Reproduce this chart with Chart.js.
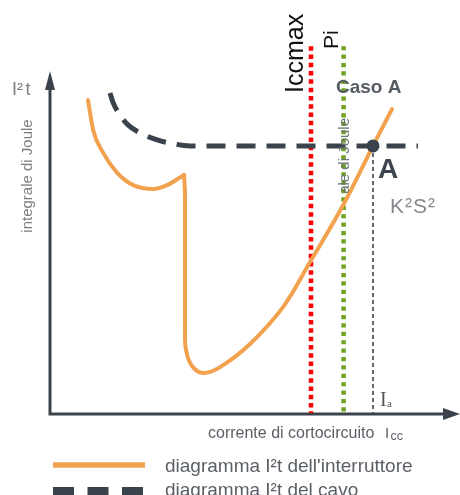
<!DOCTYPE html>
<html>
<head>
<meta charset="utf-8">
<script src="https://cdn.jsdelivr.net/npm/chart.js@4.4.1/dist/chart.umd.min.js"></script>
<style>
  html, body { margin: 0; padding: 0; background: #fff; }
  #wrap { position: relative; width: 460px; height: 495px; overflow: hidden; }
</style>
</head>
<body>
<div id="wrap"><canvas id="chart" width="460" height="495"></canvas></div>
<script>
// Breaker I2t curve (chart units 0..100)
const breakerTopX = [9.5, 10.8, 13.3, 16.8, 20.8, 25.8, 29.3, 33.5];
const breakerTopY = [89.7, 81.1, 74.6, 68.9, 65.4, 64.3, 65.4, 68.3];
const breakerLowX = [33.5, 33.75, 33.75, 34.0, 35.5, 38.3, 42.5, 50.0, 58.3, 65.0, 73.3, 80.75, 85.5];
const breakerLowY = [68.3, 62.6, 24.0, 18.3, 13.7, 11.7, 13.4, 20.0, 30.6, 43.4, 59.7, 76.6, 87.1];

// Cable I2t curve (K2S2)
const cableX = [15.0, 15.8, 17.5, 19.5, 22.5, 26.8, 30.0, 35.0, 45.0, 92.0];
const cableY = [91.7, 88.9, 85.4, 82.6, 80.3, 78.3, 77.4, 76.6, 76.6, 76.6];

// Vertical markers
const iccmaxX = 65.25;
const piX = 73.4;
const pointA = { x: 80.75, y: 76.6 };
const markerTop = 105.1;
const markerBottom = 0.3;

const pts = (xs, ys) => xs.map((x, i) => ({ x: x, y: ys[i] }));

const FONT = "'Liberation Sans', Arial, sans-serif";
const ORANGE = '#f2a24e';
const DARK = '#3a424c';
const GREY = '#5b6067';

// Axes, arrows, labels and legend
const sketchPlugin = {
    id: 'sketch',
    beforeDatasetsDraw(chart) {
        const ctx = chart.ctx;
        const sx = chart.scales.x, sy = chart.scales.y;
        const x0 = sx.getPixelForValue(0), y0 = sy.getPixelForValue(0);
        const xEnd = sx.getPixelForValue(102.5), yEnd = sy.getPixelForValue(98);
        ctx.save();
        ctx.strokeStyle = DARK;
        ctx.fillStyle = DARK;
        ctx.lineWidth = 3;
        ctx.beginPath();
        ctx.moveTo(x0, yEnd + 16);
        ctx.lineTo(x0, y0);
        ctx.lineTo(xEnd - 14, y0);
        ctx.stroke();
        // arrow heads
        ctx.beginPath();
        ctx.moveTo(x0, yEnd);
        ctx.lineTo(x0 - 5, yEnd + 19);
        ctx.lineTo(x0 + 5, yEnd + 19);
        ctx.closePath();
        ctx.fill();
        ctx.beginPath();
        ctx.moveTo(xEnd, y0);
        ctx.lineTo(xEnd - 17, y0 - 6);
        ctx.lineTo(xEnd - 17, y0 + 6);
        ctx.closePath();
        ctx.fill();
        ctx.restore();
    },
    afterDatasetsDraw(chart) {
        const ctx = chart.ctx;
        const sx = chart.scales.x, sy = chart.scales.y;
        const X = v => sx.getPixelForValue(v), Y = v => sy.getPixelForValue(v);

        function text(s, x, y, font, color, rot, align) {
            ctx.save();
            ctx.translate(x, y);
            if (rot) ctx.rotate(rot);
            ctx.font = font;
            ctx.fillStyle = color;
            ctx.textAlign = align || 'left';
            ctx.textBaseline = 'alphabetic';
            ctx.fillText(s, 0, 0);
            ctx.restore();
        }
        const up = -Math.PI / 2;

        // y axis titles
        text('I', 12, 95, '18px ' + FONT, '#7d7d7d');
        text('²', 17, 95, '18px ' + FONT, '#7d7d7d');
        text('t', 25.5, 95, '18px ' + FONT, '#7d7d7d');
        text('integrale di Joule', 32, 176, '15px ' + FONT, '#7d7d7d', up, 'center');

        // marker labels
        text('Iccmax', X(iccmaxX) - 8, 93, '25px ' + FONT, '#111', up);
        text('Pi', X(piX) - 5.5, 49, '21px ' + FONT, '#111', up);
        text('ale di Joule', X(piX) + 5, Y(pointA.y) + 10, '15px ' + FONT, '#6f747a', up, 'center');
        text('Caso A', 336, 93, 'bold 19px ' + FONT, '#555b63');
        text('A', X(pointA.x) + 5, Y(pointA.y) + 32, 'bold 28px ' + FONT, '#3d4450');
        ctx.save();
        ctx.letterSpacing = '1px';
        text('K²S²', X(pointA.x) + 17, Y(pointA.y) + 67, '21px ' + FONT, '#85898e');
        ctx.restore();
        text('I', X(pointA.x) + 7, 406, '20px "Liberation Serif", serif', '#555');
        text('a', X(pointA.x) + 14, 407, '11px "Liberation Serif", serif', '#555');

        // x axis title
        text('corrente di cortocircuito', 208, 438, '16px ' + FONT, GREY);
        text('I', 385, 438, '15px ' + FONT, GREY);
        text('cc', 390.5, 440, '12.5px ' + FONT, GREY);

        // legend
        ctx.save();
        ctx.lineCap = 'butt';
        ctx.strokeStyle = ORANGE;
        ctx.lineWidth = 5.5;
        ctx.beginPath();
        ctx.moveTo(53, 465);
        ctx.lineTo(145, 465);
        ctx.stroke();
        ctx.strokeStyle = DARK;
        ctx.lineWidth = 8;
        ctx.setLineDash([21, 13.5]);
        ctx.beginPath();
        ctx.moveTo(53, 491);
        ctx.lineTo(145, 491);
        ctx.stroke();
        ctx.restore();
        text('diagramma I²t dell\'interruttore', 165, 472, '19px ' + FONT, GREY);
        text('diagramma I²t del cavo', 165, 496, '19px ' + FONT, GREY);
    }
};

const ctx = document.getElementById('chart').getContext('2d');
const chart = new Chart(ctx, {
    type: 'line',
    data: {
        datasets: [
            {
                label: 'A',
                data: [pointA],
                showLine: false,
                pointRadius: 6.5,
                pointBackgroundColor: DARK,
                pointBorderWidth: 0
            },
            {
                label: 'diagramma I²t del cavo',
                data: pts(cableX, cableY),
                borderColor: DARK,
                borderWidth: 5,
                borderDash: [19, 11],
                borderCapStyle: 'butt',
                cubicInterpolationMode: 'monotone',
                pointRadius: 0
            },
            {
                label: 'diagramma I²t dell\'interruttore',
                data: pts(breakerTopX, breakerTopY),
                borderColor: ORANGE,
                borderWidth: 4,
                borderCapStyle: 'round',
                cubicInterpolationMode: 'monotone',
                pointRadius: 0
            },
            {
                label: 'interruttore (2)',
                data: pts(breakerLowX, breakerLowY),
                borderColor: ORANGE,
                borderWidth: 4,
                borderCapStyle: 'round',
                tension: 0.35,
                pointRadius: 0
            },
            {
                label: 'Ia',
                data: [pointA, { x: pointA.x, y: 0 }],
                borderColor: DARK,
                borderWidth: 1.6,
                borderDash: [4, 3],
                pointRadius: 0
            },
            {
                label: 'Pi',
                data: [{ x: piX, y: markerTop }, { x: piX, y: markerBottom }],
                borderColor: '#6fa11f',
                borderWidth: 4.5,
                borderDash: [4.2, 4.2],
                borderCapStyle: 'butt',
                pointRadius: 0
            },
            {
                label: 'Iccmax',
                data: [{ x: iccmaxX, y: markerTop }, { x: iccmaxX, y: markerBottom }],
                borderColor: '#ff0000',
                borderWidth: 4.5,
                borderDash: [4.5, 3.8],
                borderCapStyle: 'butt',
                pointRadius: 0
            }
        ]
    },
    options: {
        responsive: false,
        animation: false,
        layout: { padding: { left: 50, right: 10, top: 64, bottom: 81 } },
        clip: false,
        datasets: { line: { clip: false } },
        scales: {
            x: { type: 'linear', min: 0, max: 100, display: false },
            y: { type: 'linear', min: 0, max: 100, display: false }
        },
        plugins: {
            legend: { display: false },
            tooltip: { enabled: false }
        }
    },
    plugins: [sketchPlugin]
});
</script>
</body>
</html>
